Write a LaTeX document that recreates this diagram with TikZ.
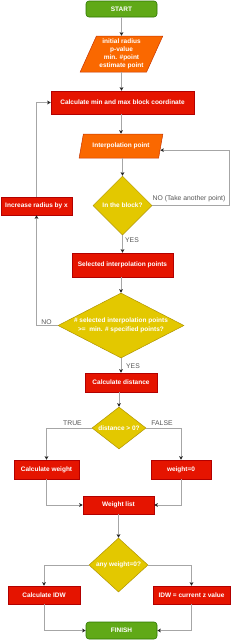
\documentclass[tikz,border=0pt]{standalone}
\usepackage{fontspec}
\setmainfont{Liberation Sans}
\usetikzlibrary{shapes.geometric,arrows.meta,calc}
\definecolor{gfill}{HTML}{60A917}\definecolor{gline}{HTML}{2D7600}
\definecolor{ofill}{HTML}{FA6800}\definecolor{oline}{HTML}{C73500}
\definecolor{rfill}{HTML}{E51400}\definecolor{rline}{HTML}{B20000}
\definecolor{yfill}{HTML}{E3C800}\definecolor{yline}{HTML}{B09500}
\definecolor{conncol}{HTML}{A6A6A6}
\definecolor{lblcol}{HTML}{555555}
\tikzset{
  wtxt/.style={text=white,font=\fontsize{6.5}{8.2}\selectfont\bfseries,align=center,inner sep=0pt},
  term/.style={wtxt,rectangle,rounded corners=3pt,fill=gfill,draw=gline,line width=0.6pt},
  proc/.style={wtxt,rectangle,fill=rfill,draw=rline,line width=0.5pt},
  io/.style={wtxt,trapezium,trapezium stretches=true,fill=ofill,draw=oline,line width=0.5pt},
  dia/.style={diamond,fill=yfill,draw=yline,line width=0.5pt,inner sep=0pt},
  lbl/.style={text=lblcol,font=\fontsize{6.8}{8}\selectfont,inner sep=0pt},
  conn/.style={draw=conncol,line width=0.8pt,-{Stealth[length=3.5pt,width=3.6pt,inset=0.8pt,color=black!85]}},
}
\begin{document}
\begin{tikzpicture}[x=1pt,y=-1pt]
\useasboundingbox (0,0) rectangle (234,640);
% nodes
\node[term,minimum width=71pt,minimum height=16pt] (start) at (121.5,9) {START};
\node[io,trapezium left angle=65,trapezium right angle=115,minimum width=83pt,minimum height=36pt] (p1) at (121.5,54) {initial radius\\p-value\\min. \#point\\estimate point};
\node[proc,minimum width=143pt,minimum height=23pt] (calc1) at (122.5,102.5) {Calculate min and max block coordinate};
\node[io,trapezium left angle=62,trapezium right angle=118,minimum width=84pt,minimum height=24pt] (p2) at (121,146) {Interpolation point};
\node[dia,minimum width=59pt,minimum height=59pt] (d1) at (122.5,205.5) {};
\node[wtxt] (d1t) at (d1) {In the block?};
\node[proc,minimum width=101pt,minimum height=24pt] (sel) at (122.5,265) {Selected interpolation points};
\node[proc,minimum width=71pt,minimum height=18pt] (inc) at (36.5,206) {Increase radius by x};
\node[dia,minimum width=126pt,minimum height=65pt] (d2) at (121,325.5) {};
\node[wtxt,font=\fontsize{6.5}{8.4}\selectfont\bfseries] (d2t) at (d2) {\# selected interpolation points\\>=~~min. \# specified points?};
\node[proc,minimum width=72pt,minimum height=19pt] (dist) at (121,382.5) {Calculate distance};
\node[dia,minimum width=54pt,minimum height=42pt] (d3) at (119,428) {};
\node[wtxt] (d3t) at (d3) {distance > 0?};
\node[proc,minimum width=65pt,minimum height=19pt] (cw) at (46.5,469.5) {Calculate weight};
\node[proc,minimum width=60pt,minimum height=19pt] (w0) at (181,469.5) {weight=0};
\node[proc,minimum width=71pt,minimum height=18pt] (wl) at (118.5,505) {Weight list};
\node[dia,minimum width=59pt,minimum height=54pt] (d4) at (118.5,565) {};
\node[wtxt] (d4t) at (d4) {any weight=0?};
\node[proc,minimum width=72pt,minimum height=18pt] (idw) at (44,595) {Calculate IDW};
\node[proc,minimum width=77pt,minimum height=18pt] (idz) at (191.5,595) {IDW = current z value};
\node[term,minimum width=71pt,minimum height=17pt] (fin) at (121.5,630.5) {FINISH};
% helper coordinates
\path (p2.top right corner) -- (p2.bottom right corner) coordinate[pos=0.67] (p2in);
\coordinate (noR) at (229,0);
% connectors
\draw[conn] (start.south) -- (start.south |- p1.north);
\draw[conn] (p1.south) -- (p1.south |- calc1.north);
\draw[conn] (p2.north |- calc1.south) -- (p2.north);
\draw[conn] (d1.north |- p2.south) -- (d1.north);
\draw[conn] (d1.south) -- (sel.north);
\draw[conn] (d1.east) -- (d1.east -| noR) -- (p2in -| noR) -- (p2in);
\draw[conn] (d2.north |- sel.south) -- (d2.north);
\draw[conn] (d2.west) -- (d2.west -| inc.south) -- (inc.south);
\draw[conn] (inc.north) |- (calc1.west);
\draw[conn] (d2.south) -- (dist.north);
\draw[conn] (d3.north |- dist.south) -- (d3.north);
\draw[conn] (d3.west) -| (cw.north);
\draw[conn] (d3.east) -| (w0.north);
\draw[conn] (cw.south) |- (wl.west);
\draw[conn] (w0.south) |- (wl.east);
\draw[conn] (wl.south) -- (d4.north);
\draw[conn] (d4.west) -| (idw.north);
\draw[conn] (d4.east) -| (idz.north);
\draw[conn] (idw.south) |- (fin.west);
\draw[conn] (idz.south) |- (fin.east);
% labels
\node[lbl] (lno1) at (189,199) {NO (Take another point)};
\node[lbl] (lyes1) at (132,240.5) {YES};
\node[lbl] (lno2) at (46.5,322) {NO};
\node[lbl] (lyes2) at (133,366) {YES};
\node[lbl] (ltrue) at (72.5,423) {TRUE};
\node[lbl] (lfalse) at (162,423) {FALSE};
\end{tikzpicture}
\end{document}
